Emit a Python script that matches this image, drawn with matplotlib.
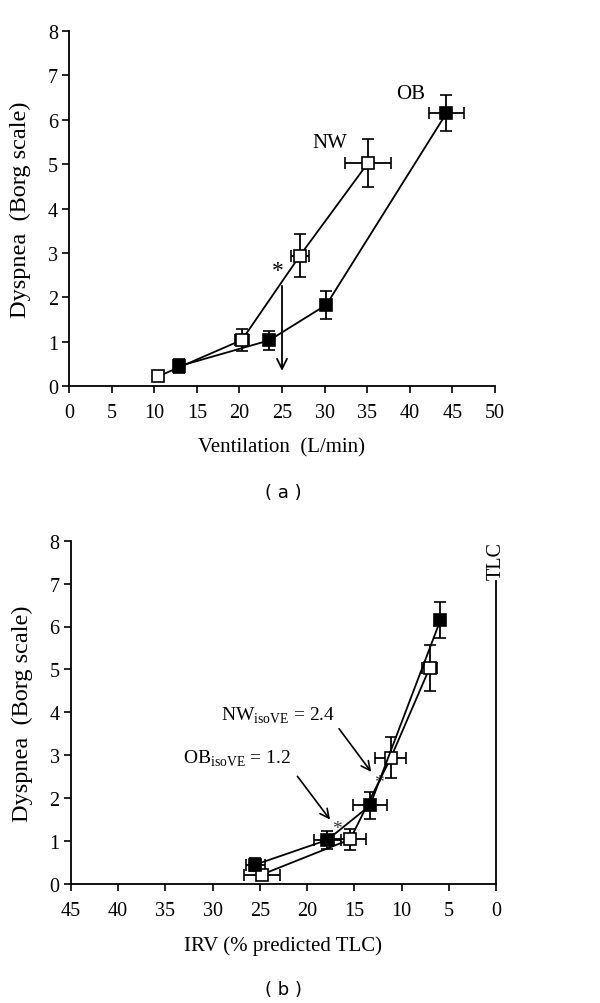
import matplotlib
matplotlib.use("Agg")
import matplotlib.pyplot as plt

# ---- Panel (a): Dyspnea vs Ventilation ----
nw_ve = [10.5, 20.3, 27.1, 35.1]
nw_dysp_a = [0.22, 1.04, 2.94, 5.03]
nw_ve_err = [0.3, 0.8, 1.05, 2.65]
nw_dysp_err = [0.08, 0.25, 0.48, 0.54]

ob_ve = [12.95, 23.5, 30.2, 44.3]
ob_dysp_a = [0.45, 1.03, 1.83, 6.15]
ob_ve_err = [0.4, 0.6, 0.5, 2.05]
ob_dysp_err = [0.15, 0.21, 0.31, 0.41]

# ---- Panel (b): Dyspnea vs IRV ----
nw_irv = [24.8, 15.45, 11.15, 7.05]
nw_irv_err = [1.9, 1.66, 1.65, 0.75]
ob_irv = [25.5, 17.85, 13.35, 5.9]
ob_irv_err = [1.0, 1.45, 1.8, 0.4]

x_ticks_a = [0, 5, 10, 15, 20, 25, 30, 35, 40, 45, 50]
x_ticks_b = [45, 40, 35, 30, 25, 20, 15, 10, 5, 0]
y_ticks = [0, 1, 2, 3, 4, 5, 6, 7, 8]

SERIF = ["Liberation Serif", "DejaVu Serif"]
plt.rcParams["font.family"] = SERIF

fig = plt.figure(figsize=(6, 10.04), dpi=100)
ax1 = fig.add_axes([0.115, 0.6145, 0.71, 0.3535])
ax2 = fig.add_axes([0.118, 0.1185, 0.709, 0.342])

LW = 1.3
MS = 8.5
common = dict(color="black", lw=LW, elinewidth=LW, capsize=4, capthick=LW,
              marker="s", markersize=MS, markeredgecolor="black",
              markeredgewidth=1.2, zorder=3)


def style(ax):
    for s in ["top", "right"]:
        ax.spines[s].set_visible(False)
    for s in ["left", "bottom"]:
        ax.spines[s].set_linewidth(1.3)
    ax.tick_params(direction="out", length=5, width=1.2, labelsize=14.5)
    ax.tick_params(axis="x", pad=7)
    ax.tick_params(axis="y", pad=3)
    ax.set_ylim(0, 8)
    ax.set_yticks(y_ticks)
    ax.set_ylabel("Dyspnea  (Borg scale)", fontsize=17.5)
    ax.yaxis.set_label_coords(-38 / 426, 0.5)


# Panel a
ax1.errorbar(nw_ve, nw_dysp_a, xerr=nw_ve_err, yerr=nw_dysp_err,
             markerfacecolor="white", **common)
ax1.errorbar(ob_ve, ob_dysp_a, xerr=ob_ve_err, yerr=ob_dysp_err,
             markerfacecolor="black", **common)
ax1.set_xlim(0, 50)
ax1.set_xticks(x_ticks_a)
style(ax1)
ax1.set_xlabel("Ventilation  (L/min)", fontsize=15, labelpad=11)
ax1.text(30.6, 5.5, "NW", fontsize=15, ha="center", va="center")
ax1.text(40.1, 6.6, "OB", fontsize=15, ha="center", va="center")
ax1.text(24.5, 2.6, "*", fontsize=17, ha="center", va="center")
ax1.annotate("", xy=(25, 0.28), xytext=(25, 2.32),
             arrowprops=dict(arrowstyle="->", lw=1.3, color="black",
                             mutation_scale=18))

# Panel b
ax2.errorbar(nw_irv, nw_dysp_a, xerr=nw_irv_err, yerr=nw_dysp_err,
             markerfacecolor="white", **common)
ax2.errorbar(ob_irv, ob_dysp_a, xerr=ob_irv_err, yerr=ob_dysp_err,
             markerfacecolor="black", **common)
ax2.set_xlim(45, 0)
ax2.set_xticks(x_ticks_b)
style(ax2)
ax2.set_xlabel("IRV (% predicted TLC)", fontsize=15, labelpad=11)
ax2.plot([0, 0], [0, 7.05], color="black", lw=1.3, clip_on=False)
ax2.text(0, 7.55, "TLC", rotation=90, fontsize=14.5, ha="center",
         va="center")
ax2.text(16.8, 1.3, "*", fontsize=14, ha="center", va="center", color="#333333")
ax2.text(12.4, 2.36, "*", fontsize=14, ha="center", va="center", color="#333333")
ax2.annotate("", xy=(17.4, 1.45), xytext=(21.2, 2.56),
             arrowprops=dict(arrowstyle="->", lw=1.2, color="black",
                             mutation_scale=16))
ax2.annotate("", xy=(13.05, 2.56), xytext=(16.8, 3.67),
             arrowprops=dict(arrowstyle="->", lw=1.2, color="black",
                             mutation_scale=16))
ax2.text(29.1, 3.95, r"NW$_{\mathregular{isoVE}}$ = 2.4", fontsize=14,
         ha="left", va="center")
ax2.text(33.1, 2.95, r"OB$_{\mathregular{isoVE}}$ = 1.2", fontsize=14,
         ha="left", va="center")

fig.text(0.472, 1 - 493 / 1004, "( a )", fontsize=13, ha="center",
         va="center", family="DejaVu Sans")
fig.text(0.472, 1 - 990 / 1004, "( b )", fontsize=13, ha="center",
         va="center", family="DejaVu Sans")

fig.savefig("out.png", dpi=100)
